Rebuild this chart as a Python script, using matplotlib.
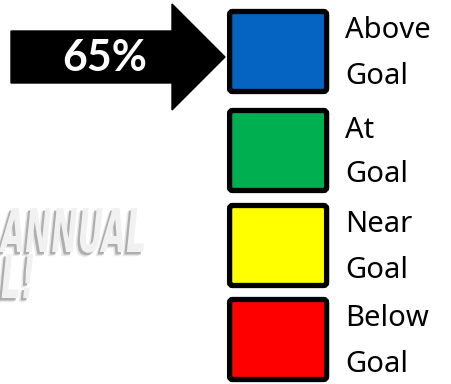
import matplotlib
matplotlib.use("Agg")
import matplotlib.pyplot as plt
from matplotlib.patches import FancyBboxPatch, Polygon
import matplotlib.patheffects as pe
from matplotlib.transforms import Affine2D

# Data
categories = ["Above\nGoal", "At\nGoal", "Near\nGoal", "Below\nGoal"]
colors = ["#0563C1", "#00B050", "#FFFF00", "#FF0000"]
current_value = "65%"
current_index = 0
banner_text = ["ANNUAL", "L!"]


class Stretch(pe.AbstractPathEffect):
    """Draw the glyph path stretched vertically from its baseline."""
    def __init__(self, sy, offset=(0, 0), color=None, alpha=None):
        super().__init__(offset)
        self.sy = sy
        self.color = color
        self.alpha = alpha

    def draw_path(self, renderer, gc, tpath, affine, rgbFace=None):
        aff = Affine2D().scale(1, self.sy) + affine + self._offset_transform(renderer)
        gc0 = renderer.new_gc()
        gc0.copy_properties(gc)
        face = rgbFace
        if self.color is not None:
            face = matplotlib.colors.to_rgba(self.color)
        if self.alpha is not None:
            gc0.set_alpha(self.alpha)
        renderer.draw_path(gc0, tpath, aff, face)
        gc0.restore()


W, H = 451, 384
fig = plt.figure(figsize=(W / 100, H / 100), dpi=100)
ax = fig.add_axes([0, 0, 1, 1])
ax.set_xlim(0, W)
ax.set_ylim(H, 0)
ax.axis("off")

# faded background text
sy = 1.92
effects = [Stretch(sy, offset=(-3, -3), color="#d8d8d8", alpha=0.6),
           Stretch(sy, offset=(-1.8, -1.8), color="#a8a8a8", alpha=0.9),
           Stretch(sy, color="#f1f1f1")]
ax.text(1, 252, banner_text[0], ha="left", va="baseline", fontsize=22.6,
        family="Liberation Sans Narrow", weight="bold", style="italic",
        color="#f1f1f1", path_effects=effects, zorder=1)
ax.text(1, 298, banner_text[1], ha="left", va="baseline", fontsize=22.6,
        family="Liberation Sans Narrow", weight="bold", style="italic",
        color="#f1f1f1", path_effects=effects, zorder=1)

# boxes
box_x0, box_w, box_h = 229.6, 97, 80
box_tops = [11.5, 110.5, 205.5, 299.5]
for i, (lab, col) in enumerate(zip(categories, colors)):
    y0 = box_tops[i]
    ax.add_patch(FancyBboxPatch((box_x0, y0), box_w, box_h,
                                boxstyle="round,pad=0,rounding_size=3",
                                facecolor=col, edgecolor="black", linewidth=3.8,
                                zorder=3))
    l1, l2 = lab.split("\n")
    ax.text(345, y0 + 27, l1, ha="left", va="baseline", fontsize=21,
            family="Noto Sans", color="black")
    ax.text(345, y0 + 72, l2, ha="left", va="baseline", fontsize=21,
            family="Noto Sans", color="black")

# arrow
yc = 57
arrow = Polygon([(11, yc - 26), (172, yc - 26), (172, yc - 53), (225, yc),
                 (172, yc + 53), (172, yc + 26), (11, yc + 26)],
                closed=True, facecolor="black", edgecolor="black", zorder=2)
ax.add_patch(arrow)
ax.text(105, yc + 1, current_value, ha="center", va="center", fontsize=31,
        family="Lato", weight="bold", color="white", zorder=4)

fig.savefig("out.png", dpi=100)
